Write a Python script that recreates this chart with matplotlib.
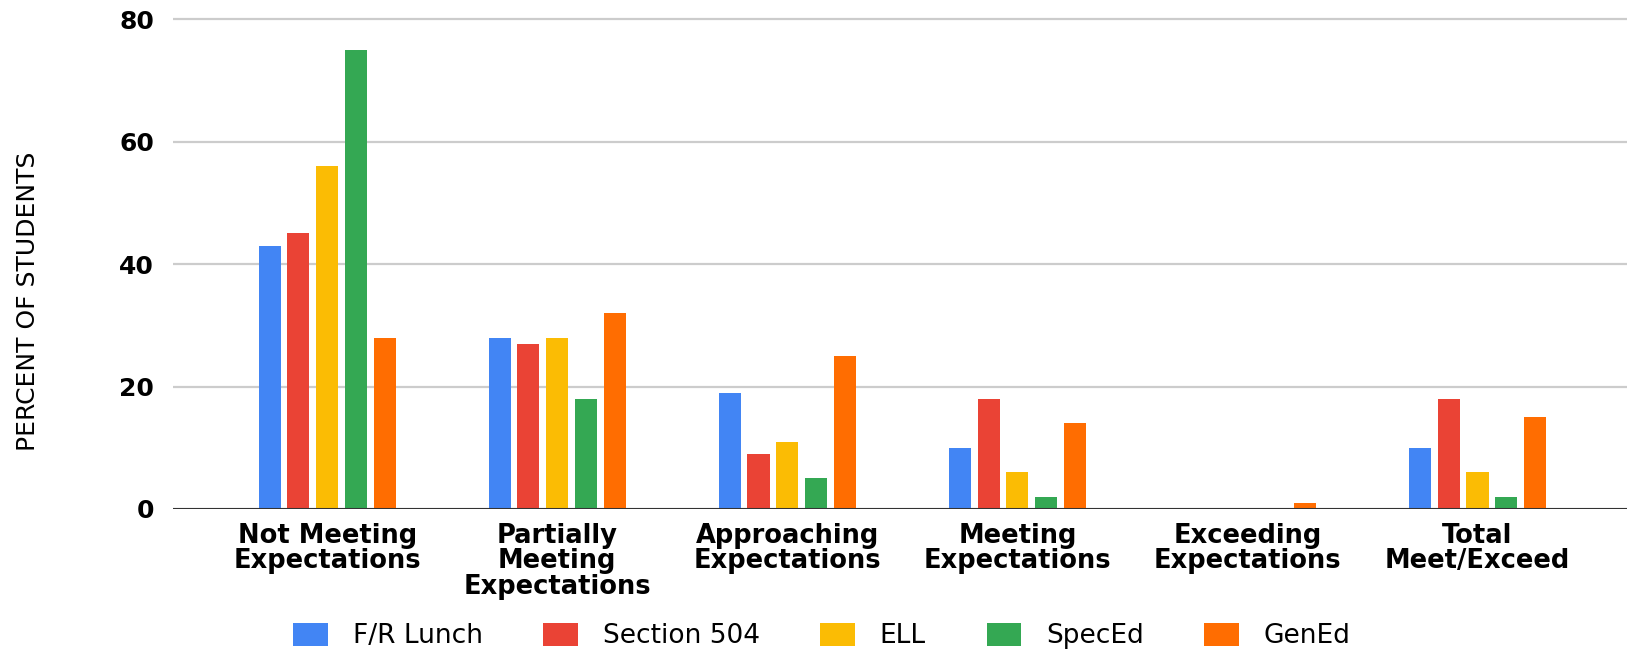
import matplotlib
matplotlib.use("Agg")
import matplotlib.pyplot as plt
import numpy as np

# données
categories = ["Not Meeting\nExpectations", "Partially\nMeeting\nExpectations",
              "Approaching\nExpectations", "Meeting\nExpectations",
              "Exceeding\nExpectations", "Total\nMeet/Exceed"]
groupes = ["F/R Lunch", "Section 504", "ELL", "SpecEd", "GenEd"]
fr_lunch = [43, 28, 19, 10, 0, 10]
section_504 = [45, 27, 9, 18, 0, 18]
ell = [56, 28, 11, 6, 0, 6]
spec_ed = [75, 18, 5, 2, 0, 2]
gen_ed = [28, 32, 25, 14, 1, 15]
yticks = [0, 20, 40, 60, 80]

series = [fr_lunch, section_504, ell, spec_ed, gen_ed]
couleurs = ["#4285F4", "#EA4335", "#FBBC04", "#34A853", "#FF6D01"]

plt.rcParams['font.family'] = ['DejaVu Sans']

fig = plt.figure(figsize=(16.27, 6.5), dpi=100)
ax = fig.add_axes([173 / 1627, 141 / 650, 1 - 173 / 1627, 0.9745 - 141 / 650])

x = np.arange(len(categories))
pas = 0.125
largeur = 0.096
for i, (vals, coul, nom) in enumerate(zip(series, couleurs, groupes)):
    ax.bar(x + (i - 2) * pas, vals, width=largeur, color=coul, label=nom, zorder=3)

ax.set_xlim(-0.67, 5.65)
ax.set_ylim(0, 80.4)
ax.set_yticks(yticks)
ax.set_yticklabels([str(v) for v in yticks], fontsize=18, fontweight='bold')
ax.set_xticks(x)
ax.set_xticklabels(categories, fontsize=18.5, fontweight='bold', linespacing=0.98)
ax.tick_params(axis='y', length=0, pad=13.5)
ax.tick_params(axis='x', length=0, pad=10)

for s in ax.spines.values():
    s.set_visible(False)
ax.grid(axis='y', color='#cccccc', linewidth=1.6, zorder=0)
ax.axhline(0, color='#333333', linewidth=2.2, zorder=4)

fig.text(28 / 1627, 1 - 301 / 650, "PERCENT OF STUDENTS", rotation=90,
         ha='center', va='center', fontsize=18)

fig.legend(loc='center', bbox_to_anchor=(822 / 1627, 1 - 636 / 650), ncol=5,
           frameon=False, fontsize=19, handlelength=1.3, handleheight=1.0,
           handletextpad=0.95, columnspacing=2.3, borderaxespad=0)

fig.savefig("out.png", dpi=100)
